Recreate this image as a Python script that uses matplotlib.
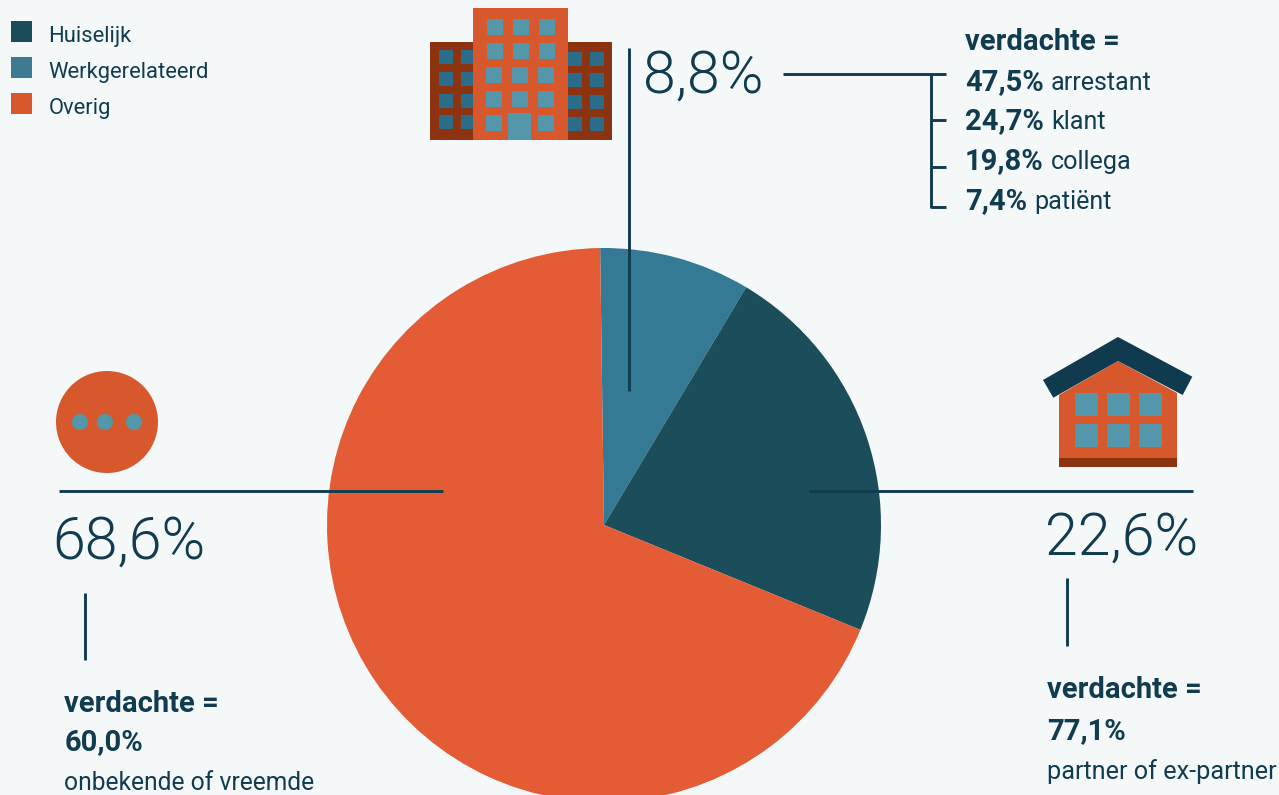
import matplotlib
matplotlib.use('Agg')
import matplotlib.pyplot as plt
from matplotlib.patches import Rectangle, Polygon, Circle

# pie shares in percent, clockwise from the top
categories = ['Werkgerelateerd', 'Huiselijk', 'Overig']
shares = [8.8, 22.6, 68.6]
share_labels = ['8,8%', '22,6%', '68,6%']

legend_labels = ['Huiselijk', 'Werkgerelateerd', 'Overig']

suspect_heading = 'verdachte ='
work_pcts = ['47,5%', '24,7%', '19,8%', '7,4%']
work_names = ['arrestant', 'klant', 'collega', 'patiënt']
home_pct = '77,1%'
home_name = 'partner of ex-partner'
other_pct = '60,0%'
other_name = 'onbekende of vreemde'

BG = '#F4F8F9'
INK = '#113C50'
DARK = '#1C4D5B'
MID = '#357A94'
ORANGE = '#E35C35'
ICON_ORANGE = '#D6582C'
BROWN = '#8C340F'
WIN_DARK = '#2A6C8A'
WIN_LIGHT = '#5497AB'

plt.rcParams['font.family'] = ['Roboto', 'DejaVu Sans']

fig = plt.figure(figsize=(12.79, 7.95), dpi=100, facecolor=BG)
ax = fig.add_axes([0, 0, 1, 1])
# axes run in image pixels, y downwards
ax.set_xlim(0, 1279)
ax.set_ylim(795, 0)
ax.axis('off')

# y is flipped, so counterclock here draws clockwise on screen
ax.pie(shares, colors=[MID, DARK, ORANGE], startangle=-90.8, counterclock=True,
       center=(604, 525), radius=277, frame=True,
       wedgeprops={'linewidth': 0})
ax.set_xlim(0, 1279)
ax.set_ylim(795, 0)
ax.set_aspect('auto')
ax.axis('off')


def rect(x0, y0, x1, y1, color, z=3):
    ax.add_patch(Rectangle((x0, y0), x1 - x0, y1 - y0, fc=color, ec='none', zorder=z))


def line(xs, ys):
    ax.plot(xs, ys, color=INK, lw=2.1, solid_capstyle='butt', zorder=5)


# legend
for y, label, color in zip([21, 57, 93], legend_labels, [DARK, '#3E7A91', ICON_ORANGE]):
    rect(11, y, 32, y + 21, color)
    ax.text(48.5, y + 21, label, fontsize=15.8, color=INK, va='baseline')

# office building
rect(430, 42, 612, 140, BROWN)
for y in [50, 72, 94, 115]:
    rect(439, y, 453, y + 14, WIN_DARK)
    rect(461, y, 475, y + 14, WIN_DARK)
for y in [52, 73, 95, 117]:
    rect(566, y, 582, y + 14, WIN_DARK)
    rect(590, y, 604, y + 14, WIN_DARK)
rect(473, 8, 568, 140, ICON_ORANGE, z=4)
for y in [19, 43]:
    for x in [487, 513, 539]:
        rect(x, y, x + 16, y + 16, WIN_LIGHT, z=5)
for y in [67, 91, 115]:
    for x in [486, 512, 538]:
        if y == 115 and x == 512:
            continue
        rect(x, y, x + 16, y + 16, WIN_LIGHT, z=5)
rect(508, 113, 531, 140, WIN_LIGHT, z=5)

# house
ax.add_patch(Polygon([(1059, 467), (1059, 395), (1118, 361), (1177, 393), (1177, 467)],
                     fc=ICON_ORANGE, ec='none', zorder=3))
rect(1059, 458, 1177, 467, BROWN, z=4)
for y in [393, 424]:
    for x in [1075, 1107, 1139]:
        rect(x, y, x + 23, y + 23, WIN_LIGHT, z=4)
ax.add_patch(Polygon([(1118, 337), (1192.3, 376.7), (1182.7, 395), (1118, 361),
                      (1053.3, 397.7), (1043, 380)], fc='#103A4E', ec='none', zorder=5))

# circle with dots
ax.add_patch(Circle((107, 422), 51, fc=ICON_ORANGE, ec='none', zorder=3))
for x in [80, 105, 134]:
    ax.add_patch(Circle((x, 422), 8, fc=WIN_LIGHT, ec='none', zorder=4))

# leader lines
line([629, 629], [48, 391])
line([59, 443], [491, 491])
line([809, 1193], [491, 491])
line([85, 85], [593, 660])
line([1067, 1067], [578, 646])
line([783, 946], [74, 74])
line([931, 931], [74, 208])
for y in [120, 167]:
    line([931, 946], [y, y])
line([931, 946], [207, 207])

# big percentages
for x, y, label in zip([642.5, 1045, 52.5], [93, 555, 559], share_labels):
    ax.text(x, y, label, fontsize=42.6, fontweight=300, color=INK, va='baseline', zorder=6)


def bold(x, y, s):
    return ax.text(x, y, s, fontsize=21, fontweight='bold', color=INK, va='baseline', zorder=6)


def plain(x, y, s, size=18.1):
    return ax.text(x, y, s, fontsize=size, color=INK, va='baseline', zorder=6)


# suspect breakdown, name placed right after the bold number
bold(965, 50, suspect_heading)
renderer = fig.canvas.get_renderer()
for y, pct, name in zip([90, 129, 169, 209], work_pcts, work_names):
    t = bold(965, y, pct)
    end = t.get_window_extent(renderer).x1
    plain(end + 7, y, name)

bold(1047, 698.5, suspect_heading)
bold(1047, 739, home_pct)
plain(1047, 779, home_name, size=18.2)

bold(64.5, 712, suspect_heading)
bold(64.5, 750.5, other_pct)
plain(64.5, 790, other_name, size=17.7)

fig.savefig('out.png', dpi=100, facecolor=BG)
